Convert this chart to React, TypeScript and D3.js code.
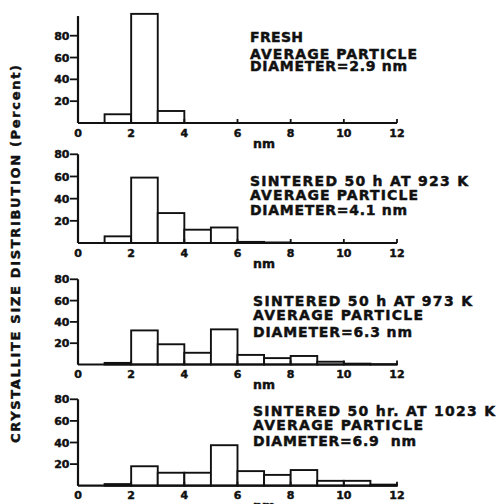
import React from 'react';
import * as d3 from 'd3';

// bin lower edges (nm), each bin is 1 nm wide
const binStart = [0, 1, 2, 3, 4, 5, 6, 7, 8, 9, 10, 11];

// percent in each bin
const freshPct = [0, 8, 100, 11, 0, 0, 0, 0, 0, 0, 0, 0];
const sint923Pct = [0, 6, 59, 27, 12, 14, 1, 0.5, 0, 0, 0, 0];
const sint973Pct = [0, 1.5, 32, 19, 11, 33, 9, 6, 8, 2.6, 0.8, 0.3];
const sint1023Pct = [0, 1.5, 18, 12, 12, 37.5, 13.5, 10, 14.5, 4.5, 4.5, 1];

const xTicks = [0, 2, 4, 6, 8, 10, 12];
const yTicks = [20, 40, 60, 80];

const captions = [
  ['FRESH', 'AVERAGE PARTICLE', 'DIAMETER=2.9 nm'],
  ['SINTERED 50 h AT 923 K', 'AVERAGE PARTICLE', 'DIAMETER=4.1 nm'],
  ['SINTERED 50 h AT 973 K', 'AVERAGE PARTICLE', 'DIAMETER=6.3 nm'],
  ['SINTERED 50 hr. AT 1023 K', 'AVERAGE PARTICLE', 'DIAMETER=6.9  nm'],
];

const series = [freshPct, sint923Pct, sint973Pct, sint1023Pct];

// panel layout (pixels): baseline, y of 80%, axis top value, caption placement
const panels = [
  { y0: 123, y80: 35.7, axisMax: 98, tx: 250, lines: [41.7, 59, 70.7], widths: [53, 167, 157] },
  { y0: 243, y80: 154.3, axisMax: 80, tx: 250, lines: [185.7, 200, 215], widths: [218, 168, 157] },
  { y0: 364.5, y80: 279.3, axisMax: 80, tx: 253, lines: [305.7, 320, 336.7], widths: [219, 170, 159] },
  { y0: 485.7, y80: 399.3, axisMax: 80, tx: 253, lines: [416, 430, 446], widths: [242, 170, 163] },
];

const font = '"DejaVu Sans", "Liberation Sans", Arial, sans-serif';
const ink = '#111';
// scanned print is heavier than the font's bold, thicken a little
const heavy = { stroke: ink, strokeWidth: 0.45 };

const x = d3.scaleLinear().domain([0, 12]).range([78, 397]);

function Panel({ idx }: { idx: number }) {
  const p = panels[idx];
  const values = series[idx];
  const y = d3.scaleLinear().domain([0, 80]).range([p.y0, p.y80]);
  return (
    <g>
      {binStart.map((b, i) =>
        values[i] > 0 ? (
          <rect
            key={i}
            x={x(b)}
            y={y(values[i])}
            width={x(b + 1) - x(b)}
            height={y(0) - y(values[i])}
            fill="#fff"
            stroke={ink}
            strokeWidth={1.9}
          />
        ) : null
      )}
      {/* y axis */}
      <line x1={x(0)} x2={x(0)} y1={y(0)} y2={y(p.axisMax)} stroke={ink} strokeWidth={2.2} />
      {yTicks.map(t => (
        <g key={t}>
          <line x1={x(0) - 8} x2={x(0)} y1={y(t)} y2={y(t)} stroke={ink} strokeWidth={1.8} />
          <text x={x(0) - 8.5} y={y(t)} dy="0.37em" textAnchor="end" fontSize={11} fontWeight="bold" fontFamily={font} fill={ink} {...heavy}>
            {t}
          </text>
        </g>
      ))}
      {/* x axis */}
      <line x1={x(0)} x2={x(12)} y1={y(0)} y2={y(0)} stroke={ink} strokeWidth={2.2} />
      {xTicks.map(t => (
        <g key={t}>
          <line x1={x(t)} x2={x(t)} y1={y(0)} y2={y(0) - 4} stroke={ink} strokeWidth={1.8} />
          <text x={x(t)} y={y(0) + 13.5} textAnchor="middle" fontSize={11} fontWeight="bold" fontFamily={font} fill={ink} {...heavy}>
            {t}
          </text>
        </g>
      ))}
      <text x={x(7)} y={y(0) + 24.5} textAnchor="middle" fontSize={12.5} fontWeight="bold" fontFamily={font} fill={ink} {...heavy}>
        nm
      </text>
      {captions[idx].map((c, i) => (
        <text
          key={i}
          x={p.tx}
          y={p.lines[i]}
          fontSize={14}
          fontWeight="bold"
          fontFamily={font}
          fill={ink}
          {...heavy}
          textLength={p.widths[i]}
          lengthAdjust="spacing"
          style={{ whiteSpace: 'pre' }}
        >
          {c}
        </text>
      ))}
    </g>
  );
}

export default function App() {
  return (
    <svg
      width={498}
      height={504}
      style={{ position: 'absolute', left: 0, top: 0, background: '#fff' }}
    >
      <rect width={498} height={504} fill="#fff" />
      {panels.map((_, i) => (
        <Panel key={i} idx={i} />
      ))}
      <text
        transform="translate(15,254) rotate(-90)"
        textAnchor="middle"
        dy="0.36em"
        fontSize={13}
        fontWeight="bold"
        fontFamily={font}
        fill={ink}
        {...heavy}
        textLength={378}
        lengthAdjust="spacing"
      >
        CRYSTALLITE SIZE DISTRIBUTION (Percent)
      </text>
    </svg>
  );
}
